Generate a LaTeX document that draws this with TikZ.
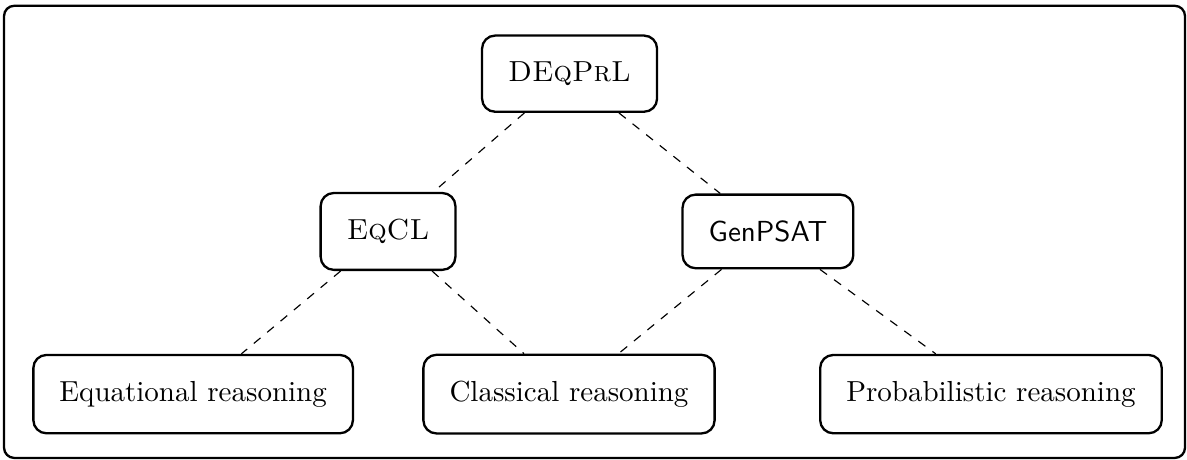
\documentclass[tikz,border=0pt]{standalone}
\usetikzlibrary{positioning}
\tikzset{
  box/.style={draw, thick, rounded corners=4.5pt, inner sep=9pt, align=center},
  link/.style={dashed, thin},
  frame/.style={draw, thick, rounded corners=3.5pt}
}
\begin{document}
\begin{tikzpicture}[x=1pt,y=1pt]
  \useasboundingbox (0,0) rectangle (409.3,158.6);
  % surrounding frame
  \draw[frame] (1.4,0.7) rectangle (408.6,156.6);

  % top level
  \node[box] (deqprl) at (196.4,133.2) {\textsc{DEqPrL}};

  % middle level
  \node[box] (eqcl)    at (133.8,78.8) {\textsc{EqCL}};
  \node[box] (genpsat) at (264.8,78.8) {\textsf{GenPSAT}};

  % bottom level
  \node[box] (eqr)   at (66.6,22.7)  {Equational reasoning};
  \node[box] (clr)   at (196.2,22.7) {Classical reasoning};
  \node[box] (prr)   at (341.7,22.7) {Probabilistic reasoning};

  % connections
  \draw[link] (deqprl) -- (eqcl);
  \draw[link] (deqprl) -- (genpsat);
  \draw[link] (eqcl) -- (eqr);
  \draw[link] (eqcl) -- (clr);
  \draw[link] (genpsat) -- (clr);
  \draw[link] (genpsat) -- (prr);
\end{tikzpicture}
\end{document}
